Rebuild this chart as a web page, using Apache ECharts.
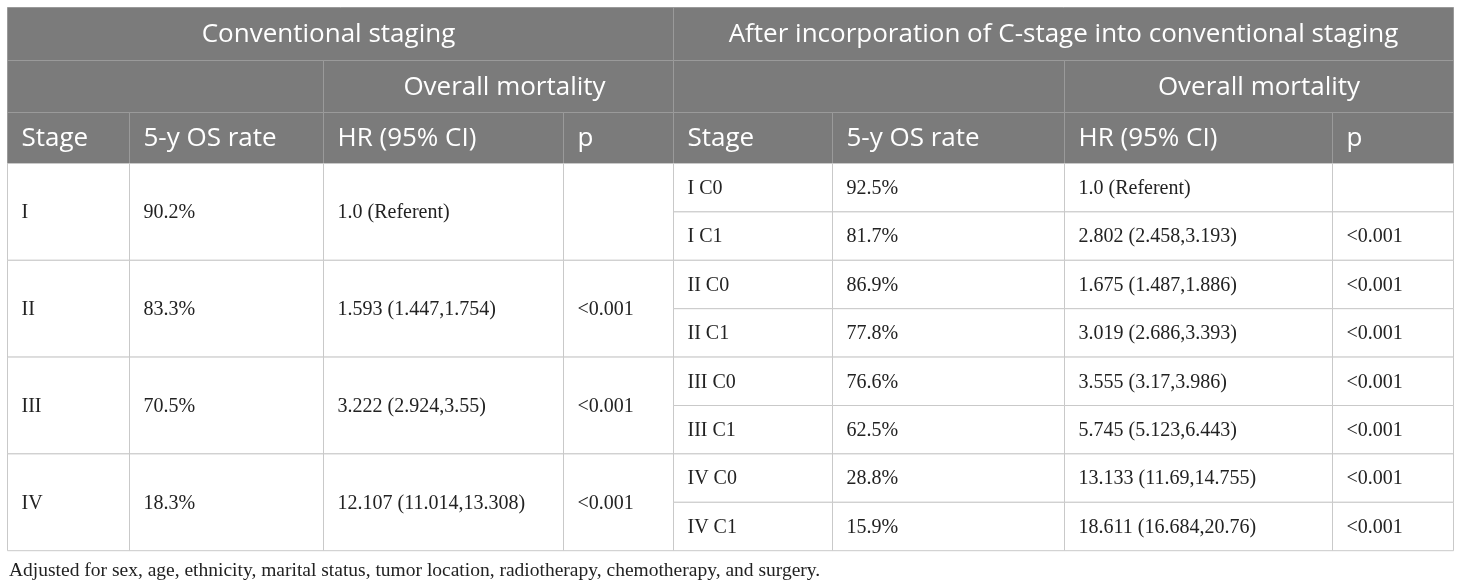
<!DOCTYPE html>
<html>
<head>
<meta charset="utf-8">
<script src="https://cdn.jsdelivr.net/npm/echarts@6/dist/echarts.min.js"></script>
<style>
  html, body { margin: 0; padding: 0; background: #fff; }
  #main { width: 1460px; height: 587px; }
</style>
</head>
<body>
<div id="main"></div>
<script>
(function () {
    // table content
    var groupHeaders = ['Conventional staging', 'After incorporation of C-stage into conventional staging'];
    var subHeader = 'Overall mortality';
    var columnHeaders = ['Stage', '5-y OS rate', 'HR (95% CI)', 'p'];

    var leftStages = ['I', 'II', 'III', 'IV'];
    var leftRates = ['90.2%', '83.3%', '70.5%', '18.3%'];
    var leftHR = ['1.0 (Referent)', '1.593 (1.447,1.754)', '3.222 (2.924,3.55)', '12.107 (11.014,13.308)'];
    var leftP = ['', '<0.001', '<0.001', '<0.001'];

    var rightStages = ['I C0', 'I C1', 'II C0', 'II C1', 'III C0', 'III C1', 'IV C0', 'IV C1'];
    var rightRates = ['92.5%', '81.7%', '86.9%', '77.8%', '76.6%', '62.5%', '28.8%', '15.9%'];
    var rightHR = ['1.0 (Referent)', '2.802 (2.458,3.193)', '1.675 (1.487,1.886)', '3.019 (2.686,3.393)',
        '3.555 (3.17,3.986)', '5.745 (5.123,6.443)', '13.133 (11.69,14.755)', '18.611 (16.684,20.76)'];
    var rightP = ['', '<0.001', '<0.001', '<0.001', '<0.001', '<0.001', '<0.001', '<0.001'];

    var footnote = 'Adjusted for sex, age, ethnicity, marital status, tumor location, radiotherapy, chemotherapy, and surgery.';

    // layout (axis units = px)
    var colEdges = [7.5, 129.5, 323.5, 563.5, 673.5, 832.5, 1064.5, 1332.5, 1453.5];
    var headEdges = [7.5, 60.5, 112.5, 163.5];
    var bodyTop = 163.5, bodyRow = 48.4;

    var headFont = '26px "Open Sans"';
    var bodyFont = '20px "Liberation Serif"';

    var cells = [];
    function add(c0, c1, y0, y1, text, kind, align, dx) {
        cells.push({ x0: colEdges[c0], x1: colEdges[c1], y0: y0, y1: y1, text: text, kind: kind,
            align: align || 'left', dx: dx || 0 });
    }
    // header
    add(0, 4, headEdges[0], headEdges[1], groupHeaders[0], 'head', 'center', -12);
    add(4, 8, headEdges[0], headEdges[1], groupHeaders[1], 'head', 'center');
    add(0, 2, headEdges[1], headEdges[2], '', 'head');
    add(2, 4, headEdges[1], headEdges[2], subHeader, 'head', 'center', 6);
    add(4, 6, headEdges[1], headEdges[2], '', 'head');
    add(6, 8, headEdges[1], headEdges[2], subHeader, 'head', 'center');
    for (var k = 0; k < 8; k++) {
        add(k, k + 1, headEdges[2], headEdges[3], columnHeaders[k % 4], 'head');
    }
    // body left: each stage spans two rows
    var leftCols = [leftStages, leftRates, leftHR, leftP];
    leftStages.forEach(function (s, i) {
        var y0 = bodyTop + i * 2 * bodyRow, y1 = y0 + 2 * bodyRow;
        leftCols.forEach(function (col, j) { add(j, j + 1, y0, y1, col[i], 'body'); });
    });
    var rightCols = [rightStages, rightRates, rightHR, rightP];
    rightStages.forEach(function (s, i) {
        var y0 = bodyTop + i * bodyRow, y1 = y0 + bodyRow;
        rightCols.forEach(function (col, j) { add(j + 4, j + 5, y0, y1, col[i], 'body'); });
    });

    var myChart = echarts.init(document.getElementById('main'));

    var option = {
        animation: false,
        backgroundColor: '#ffffff',
        title: {
            text: footnote,
            left: 4,
            top: 556,
            textStyle: { fontFamily: 'Liberation Serif', fontSize: 19.5, fontWeight: 'normal', color: '#222222' }
        },
        grid: { left: 0, right: 0, top: 0, bottom: 0 },
        xAxis: { type: 'value', min: 0, max: 1460, show: false },
        yAxis: { type: 'value', min: 0, max: 587, inverse: true, show: false },
        series: [{
            type: 'custom',
            coordinateSystem: 'cartesian2d',
            data: cells.map(function (c) { return [c.x0, c.y0, c.x1, c.y1]; }),
            renderItem: function (params, api) {
                var c = cells[params.dataIndex];
                var p0 = api.coord([api.value(0), api.value(1)]);
                var p1 = api.coord([api.value(2), api.value(3)]);
                var isHead = c.kind === 'head';
                var tx = (c.align === 'center' ? (p0[0] + p1[0]) / 2 : p0[0] + 14) + c.dx;
                return {
                    type: 'group',
                    children: [{
                        type: 'rect',
                        shape: { x: p0[0], y: p0[1], width: p1[0] - p0[0], height: p1[1] - p0[1] },
                        style: { fill: isHead ? '#7b7b7b' : '#ffffff', stroke: isHead ? '#9a9a9a' : '#c9c9c9', lineWidth: 1 }
                    }, {
                        type: 'text',
                        x: tx,
                        y: (p0[1] + p1[1]) / 2 + 1,
                        style: {
                            text: c.text,
                            font: isHead ? headFont : bodyFont,
                            fill: isHead ? '#ffffff' : '#222222',
                            align: c.align,
                            verticalAlign: 'middle'
                        }
                    }]
                };
            }
        }]
    };

    myChart.setOption(option);
    window.addEventListener('resize', function () {
        myChart.resize();
    });
})();
</script>
</body>
</html>
